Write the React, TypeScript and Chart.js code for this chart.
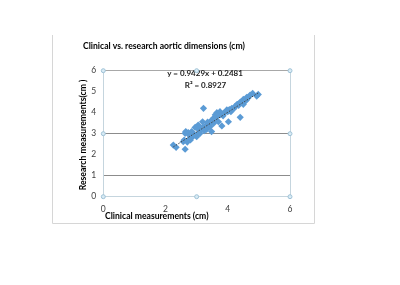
import React, { useEffect, useRef } from "react";
import { Chart, registerables } from "chart.js";

Chart.register(...registerables);

const CLINICAL = [
  2.25, 2.34, 2.63, 2.57, 2.63, 2.73, 2.84, 2.9, 2.79, 3.0, 3.11, 2.95, 3.05, 3.22, 3.19, 3.16,
  3.32, 3.43, 3.54, 3.48, 3.65, 3.59, 3.75, 3.7, 3.81, 4.02, 3.86, 3.97, 4.13, 4.23, 4.34, 4.4,
  4.45, 4.5, 4.61, 4.72, 4.8, 4.93, 4.98, 2.6, 2.7, 2.75, 2.8, 2.85, 2.95, 3.05, 3.1, 3.2, 3.25,
  3.3, 3.4, 3.45, 3.55, 3.6, 3.65, 3.7, 3.75, 3.8, 3.9, 4.0, 4.05, 4.2, 4.3, 4.35, 4.4, 4.5, 4.55,
  4.6, 4.65, 2.65, 3.0, 3.35, 3.85, 4.1,
];
const RESEARCH = [
  2.46, 2.35, 2.26, 2.62, 3.02, 3.05, 3.1, 2.89, 2.78, 2.86, 3.02, 3.3, 3.41, 4.21, 3.57, 3.25,
  3.21, 3.33, 3.49, 3.1, 3.81, 3.65, 3.89, 3.57, 3.37, 3.57, 3.97, 4.13, 4.21, 4.29, 4.41, 3.78,
  4.52, 4.63, 4.73, 4.84, 4.92, 4.79, 4.87, 2.7, 2.6, 2.95, 2.7, 3.0, 2.95, 3.0, 3.15, 3.3, 3.15,
  3.4, 3.45, 3.6, 3.75, 3.9, 4.0, 3.95, 4.05, 3.95, 4.0, 4.05, 4.15, 4.2, 4.4, 4.35, 4.5, 4.4, 4.55,
  4.6, 4.7, 3.1, 3.3, 3.55, 3.85, 4.05,
];
const SLOPE = 0.9429;
const INTERCEPT = 0.2481;
const TREND_RANGE = [2.25, 4.98];
const Y_TICKS = [0, 1, 2, 3, 4, 5, 6];
const X_TICKS = [0, 2, 4, 6];
const TITLE = "Clinical vs. research aortic dimensions (cm)";
const X_TITLE = "Clinical measurements (cm)";
const Y_TITLE = "Research measurements(cm )";
const EQ_TEXT = "y = 0.9429x + 0.2481";
const R2_TEXT = "R\u00b2 = 0.8927";

const FONT = "Lato, 'Open Sans', sans-serif";

const overlay = {
  id: "overlay",
  afterDraw(chart: any) {
    const ctx = chart.ctx;
    const a = chart.chartArea;
    ctx.save();
    // outer frame
    ctx.strokeStyle = "#d6d6d6";
    ctx.lineWidth = 1;
    ctx.beginPath();
    ctx.moveTo(52.5, 35);
    ctx.lineTo(52.5, 223.5);
    ctx.lineTo(314.5, 223.5);
    ctx.lineTo(314.5, 35);
    ctx.stroke();
    // title
    ctx.fillStyle = "#000";
    ctx.textBaseline = "middle";
    ctx.textAlign = "left";
    ctx.font = `bold 8.6px ${FONT}`;
    ctx.fillText(TITLE, 83, 46);
    // x title
    ctx.fillText(X_TITLE, 105, 216);
    // y title
    ctx.save();
    ctx.translate(83, 135);
    ctx.rotate(-Math.PI / 2);
    ctx.textAlign = "center";
    ctx.fillText(Y_TITLE, 0, 0);
    ctx.restore();
    // equation
    ctx.textAlign = "center";
    ctx.fillStyle = "#222";
    ctx.font = `bold 8px ${FONT}`;
    ctx.fillText(EQ_TEXT, 205, 73.5);
    ctx.fillText(R2_TEXT, 205.5, 85.5);
    // handles
    const mx = (a.left + a.right) / 2;
    const my = (a.top + a.bottom) / 2;
    const pts = [
      [a.left, a.top], [mx, a.top], [a.right, a.top],
      [a.left, my], [a.right, my],
      [a.left, a.bottom], [mx, a.bottom], [a.right, a.bottom],
    ];
    for (const [px, py] of pts) {
      ctx.beginPath();
      ctx.arc(px, py, 2, 0, Math.PI * 2);
      ctx.fillStyle = "#d8ebf5";
      ctx.fill();
      ctx.strokeStyle = "#9fc2d6";
      ctx.lineWidth = 1;
      ctx.stroke();
    }
    ctx.restore();
  },
};

export default function App() {
  const ref = useRef<HTMLCanvasElement>(null);
  useEffect(() => {
    if (!ref.current) return;
    const points = CLINICAL.map((x, i) => ({ x, y: RESEARCH[i] }));
    const trend = TREND_RANGE.map((x) => ({ x, y: SLOPE * x + INTERCEPT }));
    const chart = new Chart(ref.current, {
      type: "scatter",
      data: {
        datasets: [
          {
            type: "line",
            data: trend,
            borderColor: "#404040",
            borderWidth: 1,
            borderDash: [1.5, 1.5],
            pointRadius: 0,
            fill: false,
            order: 0,
          } as any,
          {
            data: points,
            pointStyle: "rectRot",
            pointRadius: 3.6,
            backgroundColor: "#5b9bd5",
            borderColor: "#5b9bd5",
            borderWidth: 0,
            order: 1,
          },
        ],
      },
      options: {
        responsive: false,
        animation: false,
        events: [],
        layout: { padding: { left: 90, right: 110, top: 70.7, bottom: 63.3 } },
        plugins: { legend: { display: false }, tooltip: { enabled: false }, title: { display: false } },
        scales: {
          x: {
            type: "linear",
            min: 0,
            max: 6,
            afterBuildTicks: (s: any) => { s.ticks = X_TICKS.map((v) => ({ value: v })); },
            afterFit: (s: any) => { s.height = 25; },
            ticks: { color: "#404040", font: { family: FONT, size: 8.5 }, padding: 7, maxRotation: 0 },
            grid: {
              drawTicks: false,
              color: (c: any) => (c.tick && c.tick.value === 6 ? "#c5d5de" : "rgba(0,0,0,0)"),
            },
            border: { color: "#c5d5de" },
          },
          y: {
            type: "linear",
            min: 0,
            max: 6,
            afterBuildTicks: (s: any) => { s.ticks = Y_TICKS.map((v) => ({ value: v })); },
            afterFit: (s: any) => { s.width = 13.3; },
            ticks: { color: "#404040", font: { family: FONT, size: 8.5 }, padding: 7 },
            grid: {
              drawTicks: false,
              color: (c: any) => {
                const v = c.tick && c.tick.value;
                if (v === 1 || v === 3) return "#8c8c8c";
                if (v === 6) return "#a8a8a8";
                return "rgba(0,0,0,0)";
              },
            },
            border: { color: "#c5d5de" },
          },
        },
      },
      plugins: [overlay],
    });
    return () => chart.destroy();
  }, []);
  return (
    <div style={{ position: "absolute", left: 0, top: 0, width: 400, height: 285, background: "#fff" }}>
      <canvas ref={ref} width={400} height={285} style={{ display: "block" }} />
    </div>
  );
}
